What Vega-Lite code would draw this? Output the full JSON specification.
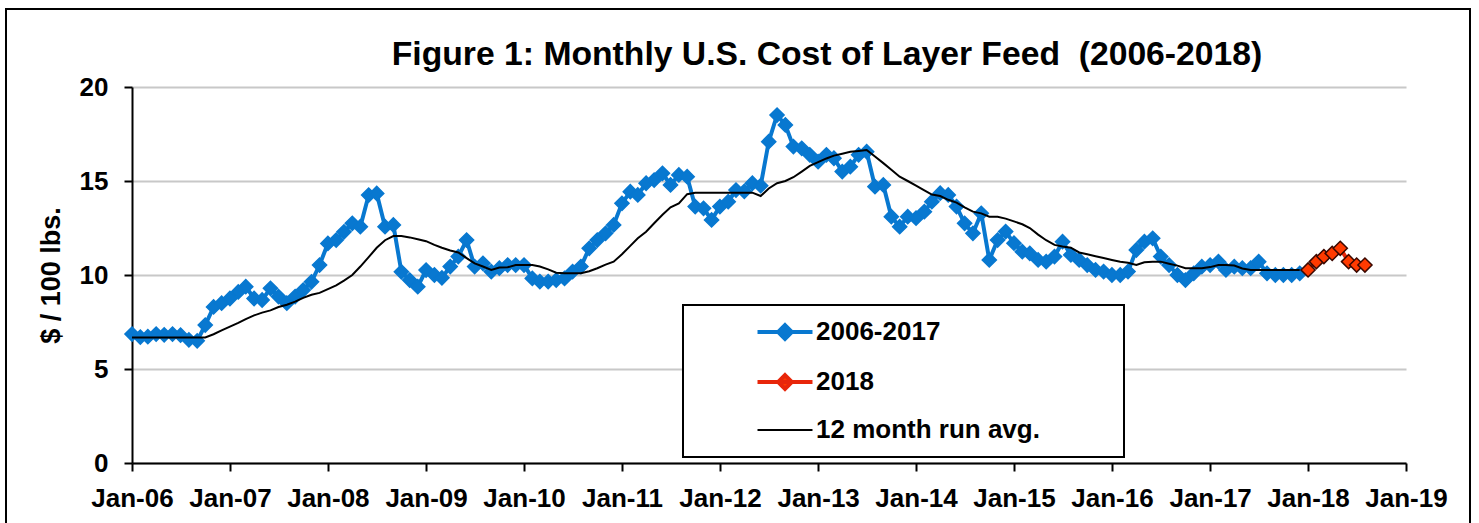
{
  "$schema": "https://vega.github.io/schema/vega-lite/v6.json",
  "width": 1464,
  "height": 514,
  "autosize": "none",
  "padding": {"left": 6, "top": 9, "right": 9, "bottom": 0},
  "background": "white",
  "config": {"view": {"stroke": "black", "strokeWidth": 2, "strokeDash": [1978, 1464, 600], "fill": "white"}, "font": "Liberation Sans"},
  "title": {
    "text": "Figure 1: Monthly U.S. Cost of Layer Feed \u00a0(2006-2018)",
    "font": "Liberation Sans", "fontSize": 33.7, "fontWeight": "bold", "color": "black",
    "anchor": "middle", "dx": 89, "baseline": "alphabetic", "offset": -90
  },
  "datasets": {
    "feed": [
      {"date":"2006-01-01","series":"2006-2017","value":6.86},{"date":"2006-02-01","series":"2006-2017","value":6.7},{"date":"2006-03-01","series":"2006-2017","value":6.72},{"date":"2006-04-01","series":"2006-2017","value":6.86},{"date":"2006-05-01","series":"2006-2017","value":6.82},{"date":"2006-06-01","series":"2006-2017","value":6.86},{"date":"2006-07-01","series":"2006-2017","value":6.8},{"date":"2006-08-01","series":"2006-2017","value":6.55},{"date":"2006-09-01","series":"2006-2017","value":6.5},{"date":"2006-10-01","series":"2006-2017","value":7.34},{"date":"2006-11-01","series":"2006-2017","value":8.3},{"date":"2006-12-01","series":"2006-2017","value":8.5},
      {"date":"2007-01-01","series":"2006-2017","value":8.75},{"date":"2007-02-01","series":"2006-2017","value":9.1},{"date":"2007-03-01","series":"2006-2017","value":9.38},{"date":"2007-04-01","series":"2006-2017","value":8.75},{"date":"2007-05-01","series":"2006-2017","value":8.67},{"date":"2007-06-01","series":"2006-2017","value":9.29},{"date":"2007-07-01","series":"2006-2017","value":8.85},{"date":"2007-08-01","series":"2006-2017","value":8.5},{"date":"2007-09-01","series":"2006-2017","value":8.85},{"date":"2007-10-01","series":"2006-2017","value":9.2},{"date":"2007-11-01","series":"2006-2017","value":9.64},{"date":"2007-12-01","series":"2006-2017","value":10.53},
      {"date":"2008-01-01","series":"2006-2017","value":11.68},{"date":"2008-02-01","series":"2006-2017","value":11.86},{"date":"2008-03-01","series":"2006-2017","value":12.3},{"date":"2008-04-01","series":"2006-2017","value":12.75},{"date":"2008-05-01","series":"2006-2017","value":12.57},{"date":"2008-06-01","series":"2006-2017","value":14.25},{"date":"2008-07-01","series":"2006-2017","value":14.34},{"date":"2008-08-01","series":"2006-2017","value":12.57},{"date":"2008-09-01","series":"2006-2017","value":12.66},{"date":"2008-10-01","series":"2006-2017","value":10.17},{"date":"2008-11-01","series":"2006-2017","value":9.73},{"date":"2008-12-01","series":"2006-2017","value":9.38},
      {"date":"2009-01-01","series":"2006-2017","value":10.26},{"date":"2009-02-01","series":"2006-2017","value":10.0},{"date":"2009-03-01","series":"2006-2017","value":9.85},{"date":"2009-04-01","series":"2006-2017","value":10.45},{"date":"2009-05-01","series":"2006-2017","value":10.98},{"date":"2009-06-01","series":"2006-2017","value":11.86},{"date":"2009-07-01","series":"2006-2017","value":10.45},{"date":"2009-08-01","series":"2006-2017","value":10.62},{"date":"2009-09-01","series":"2006-2017","value":10.18},{"date":"2009-10-01","series":"2006-2017","value":10.36},{"date":"2009-11-01","series":"2006-2017","value":10.53},{"date":"2009-12-01","series":"2006-2017","value":10.53},
      {"date":"2010-01-01","series":"2006-2017","value":10.53},{"date":"2010-02-01","series":"2006-2017","value":9.82},{"date":"2010-03-01","series":"2006-2017","value":9.65},{"date":"2010-04-01","series":"2006-2017","value":9.65},{"date":"2010-05-01","series":"2006-2017","value":9.73},{"date":"2010-06-01","series":"2006-2017","value":9.82},{"date":"2010-07-01","series":"2006-2017","value":10.18},{"date":"2010-08-01","series":"2006-2017","value":10.45},{"date":"2010-09-01","series":"2006-2017","value":11.42},{"date":"2010-10-01","series":"2006-2017","value":11.86},{"date":"2010-11-01","series":"2006-2017","value":12.22},{"date":"2010-12-01","series":"2006-2017","value":12.66},
      {"date":"2011-01-01","series":"2006-2017","value":13.81},{"date":"2011-02-01","series":"2006-2017","value":14.43},{"date":"2011-03-01","series":"2006-2017","value":14.26},{"date":"2011-04-01","series":"2006-2017","value":14.88},{"date":"2011-05-01","series":"2006-2017","value":15.05},{"date":"2011-06-01","series":"2006-2017","value":15.41},{"date":"2011-07-01","series":"2006-2017","value":14.79},{"date":"2011-08-01","series":"2006-2017","value":15.32},{"date":"2011-09-01","series":"2006-2017","value":15.23},{"date":"2011-10-01","series":"2006-2017","value":13.64},{"date":"2011-11-01","series":"2006-2017","value":13.55},{"date":"2011-12-01","series":"2006-2017","value":12.93},
      {"date":"2012-01-01","series":"2006-2017","value":13.64},{"date":"2012-02-01","series":"2006-2017","value":13.9},{"date":"2012-03-01","series":"2006-2017","value":14.52},{"date":"2012-04-01","series":"2006-2017","value":14.45},{"date":"2012-05-01","series":"2006-2017","value":14.88},{"date":"2012-06-01","series":"2006-2017","value":14.75},{"date":"2012-07-01","series":"2006-2017","value":17.09},{"date":"2012-08-01","series":"2006-2017","value":18.51},{"date":"2012-09-01","series":"2006-2017","value":17.98},{"date":"2012-10-01","series":"2006-2017","value":16.83},{"date":"2012-11-01","series":"2006-2017","value":16.74},{"date":"2012-12-01","series":"2006-2017","value":16.39},
      {"date":"2013-01-01","series":"2006-2017","value":16.03},{"date":"2013-02-01","series":"2006-2017","value":16.39},{"date":"2013-03-01","series":"2006-2017","value":16.21},{"date":"2013-04-01","series":"2006-2017","value":15.5},{"date":"2013-05-01","series":"2006-2017","value":15.76},{"date":"2013-06-01","series":"2006-2017","value":16.39},{"date":"2013-07-01","series":"2006-2017","value":16.56},{"date":"2013-08-01","series":"2006-2017","value":14.7},{"date":"2013-09-01","series":"2006-2017","value":14.79},{"date":"2013-10-01","series":"2006-2017","value":13.1},{"date":"2013-11-01","series":"2006-2017","value":12.57},{"date":"2013-12-01","series":"2006-2017","value":13.1},
      {"date":"2014-01-01","series":"2006-2017","value":13.02},{"date":"2014-02-01","series":"2006-2017","value":13.37},{"date":"2014-03-01","series":"2006-2017","value":13.9},{"date":"2014-04-01","series":"2006-2017","value":14.35},{"date":"2014-05-01","series":"2006-2017","value":14.26},{"date":"2014-06-01","series":"2006-2017","value":13.64},{"date":"2014-07-01","series":"2006-2017","value":12.75},{"date":"2014-08-01","series":"2006-2017","value":12.22},{"date":"2014-09-01","series":"2006-2017","value":13.28},{"date":"2014-10-01","series":"2006-2017","value":10.8},{"date":"2014-11-01","series":"2006-2017","value":11.86},{"date":"2014-12-01","series":"2006-2017","value":12.31},
      {"date":"2015-01-01","series":"2006-2017","value":11.69},{"date":"2015-02-01","series":"2006-2017","value":11.24},{"date":"2015-03-01","series":"2006-2017","value":11.15},{"date":"2015-04-01","series":"2006-2017","value":10.8},{"date":"2015-05-01","series":"2006-2017","value":10.71},{"date":"2015-06-01","series":"2006-2017","value":10.98},{"date":"2015-07-01","series":"2006-2017","value":11.77},{"date":"2015-08-01","series":"2006-2017","value":11.07},{"date":"2015-09-01","series":"2006-2017","value":10.8},{"date":"2015-10-01","series":"2006-2017","value":10.53},{"date":"2015-11-01","series":"2006-2017","value":10.27},{"date":"2015-12-01","series":"2006-2017","value":10.18},
      {"date":"2016-01-01","series":"2006-2017","value":10.0},{"date":"2016-02-01","series":"2006-2017","value":10.0},{"date":"2016-03-01","series":"2006-2017","value":10.18},{"date":"2016-04-01","series":"2006-2017","value":11.33},{"date":"2016-05-01","series":"2006-2017","value":11.77},{"date":"2016-06-01","series":"2006-2017","value":11.95},{"date":"2016-07-01","series":"2006-2017","value":10.98},{"date":"2016-08-01","series":"2006-2017","value":10.53},{"date":"2016-09-01","series":"2006-2017","value":10.0},{"date":"2016-10-01","series":"2006-2017","value":9.73},{"date":"2016-11-01","series":"2006-2017","value":10.09},{"date":"2016-12-01","series":"2006-2017","value":10.44},
      {"date":"2017-01-01","series":"2006-2017","value":10.53},{"date":"2017-02-01","series":"2006-2017","value":10.71},{"date":"2017-03-01","series":"2006-2017","value":10.27},{"date":"2017-04-01","series":"2006-2017","value":10.44},{"date":"2017-05-01","series":"2006-2017","value":10.36},{"date":"2017-06-01","series":"2006-2017","value":10.36},{"date":"2017-07-01","series":"2006-2017","value":10.71},{"date":"2017-08-01","series":"2006-2017","value":10.09},{"date":"2017-09-01","series":"2006-2017","value":10.0},{"date":"2017-10-01","series":"2006-2017","value":10.0},{"date":"2017-11-01","series":"2006-2017","value":10.0},{"date":"2017-12-01","series":"2006-2017","value":10.09},
      {"date":"2018-01-01","series":"2018","value":10.27},{"date":"2018-02-01","series":"2018","value":10.71},{"date":"2018-03-01","series":"2018","value":10.98},{"date":"2018-04-01","series":"2018","value":11.15},{"date":"2018-05-01","series":"2018","value":11.42},{"date":"2018-06-01","series":"2018","value":10.71},{"date":"2018-07-01","series":"2018","value":10.53},{"date":"2018-08-01","series":"2018","value":10.53},
      {"date":"2006-01-01","series":"12 month run avg.","value":6.68},{"date":"2006-02-01","series":"12 month run avg.","value":6.68},{"date":"2006-03-01","series":"12 month run avg.","value":6.68},{"date":"2006-04-01","series":"12 month run avg.","value":6.68},{"date":"2006-05-01","series":"12 month run avg.","value":6.68},{"date":"2006-06-01","series":"12 month run avg.","value":6.68},{"date":"2006-07-01","series":"12 month run avg.","value":6.68},{"date":"2006-08-01","series":"12 month run avg.","value":6.68},{"date":"2006-09-01","series":"12 month run avg.","value":6.68},{"date":"2006-10-01","series":"12 month run avg.","value":6.68},{"date":"2006-11-01","series":"12 month run avg.","value":6.85},{"date":"2006-12-01","series":"12 month run avg.","value":7.05},
      {"date":"2007-01-01","series":"12 month run avg.","value":7.25},{"date":"2007-02-01","series":"12 month run avg.","value":7.45},{"date":"2007-03-01","series":"12 month run avg.","value":7.65},{"date":"2007-04-01","series":"12 month run avg.","value":7.85},{"date":"2007-05-01","series":"12 month run avg.","value":8.0},{"date":"2007-06-01","series":"12 month run avg.","value":8.12},{"date":"2007-07-01","series":"12 month run avg.","value":8.3},{"date":"2007-08-01","series":"12 month run avg.","value":8.42},{"date":"2007-09-01","series":"12 month run avg.","value":8.58},{"date":"2007-10-01","series":"12 month run avg.","value":8.78},{"date":"2007-11-01","series":"12 month run avg.","value":8.95},{"date":"2007-12-01","series":"12 month run avg.","value":9.05},
      {"date":"2008-01-01","series":"12 month run avg.","value":9.25},{"date":"2008-02-01","series":"12 month run avg.","value":9.45},{"date":"2008-03-01","series":"12 month run avg.","value":9.7},{"date":"2008-04-01","series":"12 month run avg.","value":10.0},{"date":"2008-05-01","series":"12 month run avg.","value":10.45},{"date":"2008-06-01","series":"12 month run avg.","value":10.95},{"date":"2008-07-01","series":"12 month run avg.","value":11.45},{"date":"2008-08-01","series":"12 month run avg.","value":11.85},{"date":"2008-09-01","series":"12 month run avg.","value":12.07},{"date":"2008-10-01","series":"12 month run avg.","value":12.07},{"date":"2008-11-01","series":"12 month run avg.","value":12.0},{"date":"2008-12-01","series":"12 month run avg.","value":11.9},
      {"date":"2009-01-01","series":"12 month run avg.","value":11.8},{"date":"2009-02-01","series":"12 month run avg.","value":11.6},{"date":"2009-03-01","series":"12 month run avg.","value":11.45},{"date":"2009-04-01","series":"12 month run avg.","value":11.3},{"date":"2009-05-01","series":"12 month run avg.","value":11.2},{"date":"2009-06-01","series":"12 month run avg.","value":10.9},{"date":"2009-07-01","series":"12 month run avg.","value":10.62},{"date":"2009-08-01","series":"12 month run avg.","value":10.45},{"date":"2009-09-01","series":"12 month run avg.","value":10.27},{"date":"2009-10-01","series":"12 month run avg.","value":10.4},{"date":"2009-11-01","series":"12 month run avg.","value":10.41},{"date":"2009-12-01","series":"12 month run avg.","value":10.53},
      {"date":"2010-01-01","series":"12 month run avg.","value":10.53},{"date":"2010-02-01","series":"12 month run avg.","value":10.53},{"date":"2010-03-01","series":"12 month run avg.","value":10.45},{"date":"2010-04-01","series":"12 month run avg.","value":10.3},{"date":"2010-05-01","series":"12 month run avg.","value":10.12},{"date":"2010-06-01","series":"12 month run avg.","value":10.09},{"date":"2010-07-01","series":"12 month run avg.","value":10.09},{"date":"2010-08-01","series":"12 month run avg.","value":10.09},{"date":"2010-09-01","series":"12 month run avg.","value":10.2},{"date":"2010-10-01","series":"12 month run avg.","value":10.36},{"date":"2010-11-01","series":"12 month run avg.","value":10.55},{"date":"2010-12-01","series":"12 month run avg.","value":10.71},
      {"date":"2011-01-01","series":"12 month run avg.","value":11.1},{"date":"2011-02-01","series":"12 month run avg.","value":11.55},{"date":"2011-03-01","series":"12 month run avg.","value":11.95},{"date":"2011-04-01","series":"12 month run avg.","value":12.3},{"date":"2011-05-01","series":"12 month run avg.","value":12.75},{"date":"2011-06-01","series":"12 month run avg.","value":13.2},{"date":"2011-07-01","series":"12 month run avg.","value":13.6},{"date":"2011-08-01","series":"12 month run avg.","value":13.81},{"date":"2011-09-01","series":"12 month run avg.","value":14.3},{"date":"2011-10-01","series":"12 month run avg.","value":14.38},{"date":"2011-11-01","series":"12 month run avg.","value":14.38},{"date":"2011-12-01","series":"12 month run avg.","value":14.38},
      {"date":"2012-01-01","series":"12 month run avg.","value":14.38},{"date":"2012-02-01","series":"12 month run avg.","value":14.38},{"date":"2012-03-01","series":"12 month run avg.","value":14.38},{"date":"2012-04-01","series":"12 month run avg.","value":14.38},{"date":"2012-05-01","series":"12 month run avg.","value":14.38},{"date":"2012-06-01","series":"12 month run avg.","value":14.2},{"date":"2012-07-01","series":"12 month run avg.","value":14.6},{"date":"2012-08-01","series":"12 month run avg.","value":14.88},{"date":"2012-09-01","series":"12 month run avg.","value":15.0},{"date":"2012-10-01","series":"12 month run avg.","value":15.2},{"date":"2012-11-01","series":"12 month run avg.","value":15.5},{"date":"2012-12-01","series":"12 month run avg.","value":15.8},
      {"date":"2013-01-01","series":"12 month run avg.","value":16.0},{"date":"2013-02-01","series":"12 month run avg.","value":16.2},{"date":"2013-03-01","series":"12 month run avg.","value":16.35},{"date":"2013-04-01","series":"12 month run avg.","value":16.45},{"date":"2013-05-01","series":"12 month run avg.","value":16.55},{"date":"2013-06-01","series":"12 month run avg.","value":16.6},{"date":"2013-07-01","series":"12 month run avg.","value":16.65},{"date":"2013-08-01","series":"12 month run avg.","value":16.3},{"date":"2013-09-01","series":"12 month run avg.","value":15.95},{"date":"2013-10-01","series":"12 month run avg.","value":15.6},{"date":"2013-11-01","series":"12 month run avg.","value":15.23},{"date":"2013-12-01","series":"12 month run avg.","value":15.0},
      {"date":"2014-01-01","series":"12 month run avg.","value":14.75},{"date":"2014-02-01","series":"12 month run avg.","value":14.5},{"date":"2014-03-01","series":"12 month run avg.","value":14.28},{"date":"2014-04-01","series":"12 month run avg.","value":14.2},{"date":"2014-05-01","series":"12 month run avg.","value":14.0},{"date":"2014-06-01","series":"12 month run avg.","value":13.85},{"date":"2014-07-01","series":"12 month run avg.","value":13.6},{"date":"2014-08-01","series":"12 month run avg.","value":13.37},{"date":"2014-09-01","series":"12 month run avg.","value":13.28},{"date":"2014-10-01","series":"12 month run avg.","value":13.1},{"date":"2014-11-01","series":"12 month run avg.","value":13.1},{"date":"2014-12-01","series":"12 month run avg.","value":13.0},
      {"date":"2015-01-01","series":"12 month run avg.","value":12.85},{"date":"2015-02-01","series":"12 month run avg.","value":12.7},{"date":"2015-03-01","series":"12 month run avg.","value":12.5},{"date":"2015-04-01","series":"12 month run avg.","value":12.15},{"date":"2015-05-01","series":"12 month run avg.","value":11.85},{"date":"2015-06-01","series":"12 month run avg.","value":11.6},{"date":"2015-07-01","series":"12 month run avg.","value":11.52},{"date":"2015-08-01","series":"12 month run avg.","value":11.45},{"date":"2015-09-01","series":"12 month run avg.","value":11.2},{"date":"2015-10-01","series":"12 month run avg.","value":11.1},{"date":"2015-11-01","series":"12 month run avg.","value":11.0},{"date":"2015-12-01","series":"12 month run avg.","value":10.9},
      {"date":"2016-01-01","series":"12 month run avg.","value":10.8},{"date":"2016-02-01","series":"12 month run avg.","value":10.71},{"date":"2016-03-01","series":"12 month run avg.","value":10.65},{"date":"2016-04-01","series":"12 month run avg.","value":10.53},{"date":"2016-05-01","series":"12 month run avg.","value":10.68},{"date":"2016-06-01","series":"12 month run avg.","value":10.71},{"date":"2016-07-01","series":"12 month run avg.","value":10.71},{"date":"2016-08-01","series":"12 month run avg.","value":10.6},{"date":"2016-09-01","series":"12 month run avg.","value":10.5},{"date":"2016-10-01","series":"12 month run avg.","value":10.36},{"date":"2016-11-01","series":"12 month run avg.","value":10.36},{"date":"2016-12-01","series":"12 month run avg.","value":10.36},
      {"date":"2017-01-01","series":"12 month run avg.","value":10.42},{"date":"2017-02-01","series":"12 month run avg.","value":10.53},{"date":"2017-03-01","series":"12 month run avg.","value":10.53},{"date":"2017-04-01","series":"12 month run avg.","value":10.5},{"date":"2017-05-01","series":"12 month run avg.","value":10.35},{"date":"2017-06-01","series":"12 month run avg.","value":10.27},{"date":"2017-07-01","series":"12 month run avg.","value":10.27},{"date":"2017-08-01","series":"12 month run avg.","value":10.27},{"date":"2017-09-01","series":"12 month run avg.","value":10.27},{"date":"2017-10-01","series":"12 month run avg.","value":10.27},{"date":"2017-11-01","series":"12 month run avg.","value":10.27},{"date":"2017-12-01","series":"12 month run avg.","value":10.27}
    ]
  },
  "data": {"name": "feed"},
  "encoding": {
    "x": {
      "field": "date", "type": "temporal",
      "scale": {"type": "utc", "range": [126, 1400], "domain": [{"year": 2006, "month": 1, "date": 1, "utc": true}, {"year": 2019, "month": 1, "date": 1, "utc": true}]},
      "axis": {
        "title": null, "format": "%b-%y", "grid": false, "offset": -60,
        "values": [
          {"year": 2006, "month": 1, "date": 1, "utc": true},{"year": 2007, "month": 1, "date": 1, "utc": true},{"year": 2008, "month": 1, "date": 1, "utc": true},{"year": 2009, "month": 1, "date": 1, "utc": true},{"year": 2010, "month": 1, "date": 1, "utc": true},{"year": 2011, "month": 1, "date": 1, "utc": true},{"year": 2012, "month": 1, "date": 1, "utc": true},{"year": 2013, "month": 1, "date": 1, "utc": true},{"year": 2014, "month": 1, "date": 1, "utc": true},{"year": 2015, "month": 1, "date": 1, "utc": true},{"year": 2016, "month": 1, "date": 1, "utc": true},{"year": 2017, "month": 1, "date": 1, "utc": true},{"year": 2018, "month": 1, "date": 1, "utc": true},{"year": 2019, "month": 1, "date": 1, "utc": true}
        ],
        "labelFont": "Liberation Sans", "labelFontSize": 26, "labelFontWeight": "bold", "labelColor": "black",
        "labelPadding": 14, "labelOverlap": false, "labelFlush": false,
        "tickSize": 8, "tickWidth": 2, "tickColor": "black",
        "domainColor": "black", "domainWidth": 2
      }
    },
    "y": {
      "field": "value", "type": "quantitative",
      "scale": {"domain": [0, 20], "nice": false, "zero": true, "range": [454, 78]},
      "axis": {
        "title": "$ / 100 lbs.", "values": [0, 5, 10, 15, 20], "offset": -126,
        "titleFont": "Liberation Sans", "titleFontSize": 27, "titleFontWeight": "bold", "titleColor": "black", "titlePadding": 14,
        "labelFont": "Liberation Sans", "labelFontSize": 26, "labelFontWeight": "bold", "labelColor": "black", "labelPadding": 16,
        "tickSize": 8, "tickWidth": 2, "tickColor": "black",
        "domainColor": "black", "domainWidth": 2,
        "grid": true, "gridColor": "#c8c8c8", "gridWidth": 2
      }
    }
  },
  "layer": [
    {
      "transform": [{"filter": "datum.series !== '12 month run avg.'"}],
      "mark": {"type": "line", "strokeWidth": 4, "interpolate": "linear"},
      "encoding": {
        "color": {
          "field": "series", "type": "nominal",
          "scale": {"domain": ["2006-2017", "2018", "12 month run avg."], "range": ["#0878d0", "#e8260a", "#000000"]},
          "legend": {
            "orient": "none", "legendX": 677, "legendY": 296, "title": null,
            "strokeColor": "black", "fillColor": "white", "padding": 14, "cornerRadius": 0,
            "labelFont": "Liberation Sans", "labelFontSize": 26, "labelFontWeight": "bold", "labelColor": "black", "labelLimit": 800,
            "labelExpr": "datum.label + '\u00a0\u00a0\u00a0\u00a0\u00a0\u00a0\u00a0\u2800'",
            "symbolSize": 756, "symbolOffset": 75, "rowPadding": 20, "labelOffset": 18,
            "encode": {
              "legend": {"update": {"strokeWidth": {"value": 2}}},
              "symbols": {"update": {
                "shape": {"signal": "datum.value === '12 month run avg.' ? 'M-2,0L2,0' : 'M-2,0L2,0M0,-0.5L0.5,0L0,0.5L-0.5,0Z'"},
                "strokeWidth": {"signal": "datum.value === '12 month run avg.' ? 2 : 4"},
                "fill": {"signal": "datum.value === '2006-2017' ? '#0878d0' : (datum.value === '2018' ? '#ff3a00' : 'transparent')"},
                "stroke": {"signal": "datum.value === '2006-2017' ? '#0878d0' : (datum.value === '2018' ? '#e8260a' : '#000000')"},
                "opacity": {"value": 1}
              }}
            }
          }
        }
      }
    },
    {
      "transform": [{"filter": "datum.series !== '12 month run avg.'"}],
      "mark": {"type": "point", "shape": "diamond", "filled": true, "size": 200, "opacity": 1},
      "encoding": {
        "fill": {"condition": {"test": "datum.series === '2018'", "value": "#ff3a00"}, "value": "#0878d0"},
        "stroke": {"condition": {"test": "datum.series === '2018'", "value": "#3a0800"}, "value": "#0878d0"},
        "strokeWidth": {"value": 1.5}
      }
    },
    {
      "transform": [{"filter": "datum.series === '12 month run avg.'"}],
      "mark": {"type": "line", "strokeWidth": 2},
      "encoding": {"color": {"field": "series", "type": "nominal"}}
    }
  ]
}
